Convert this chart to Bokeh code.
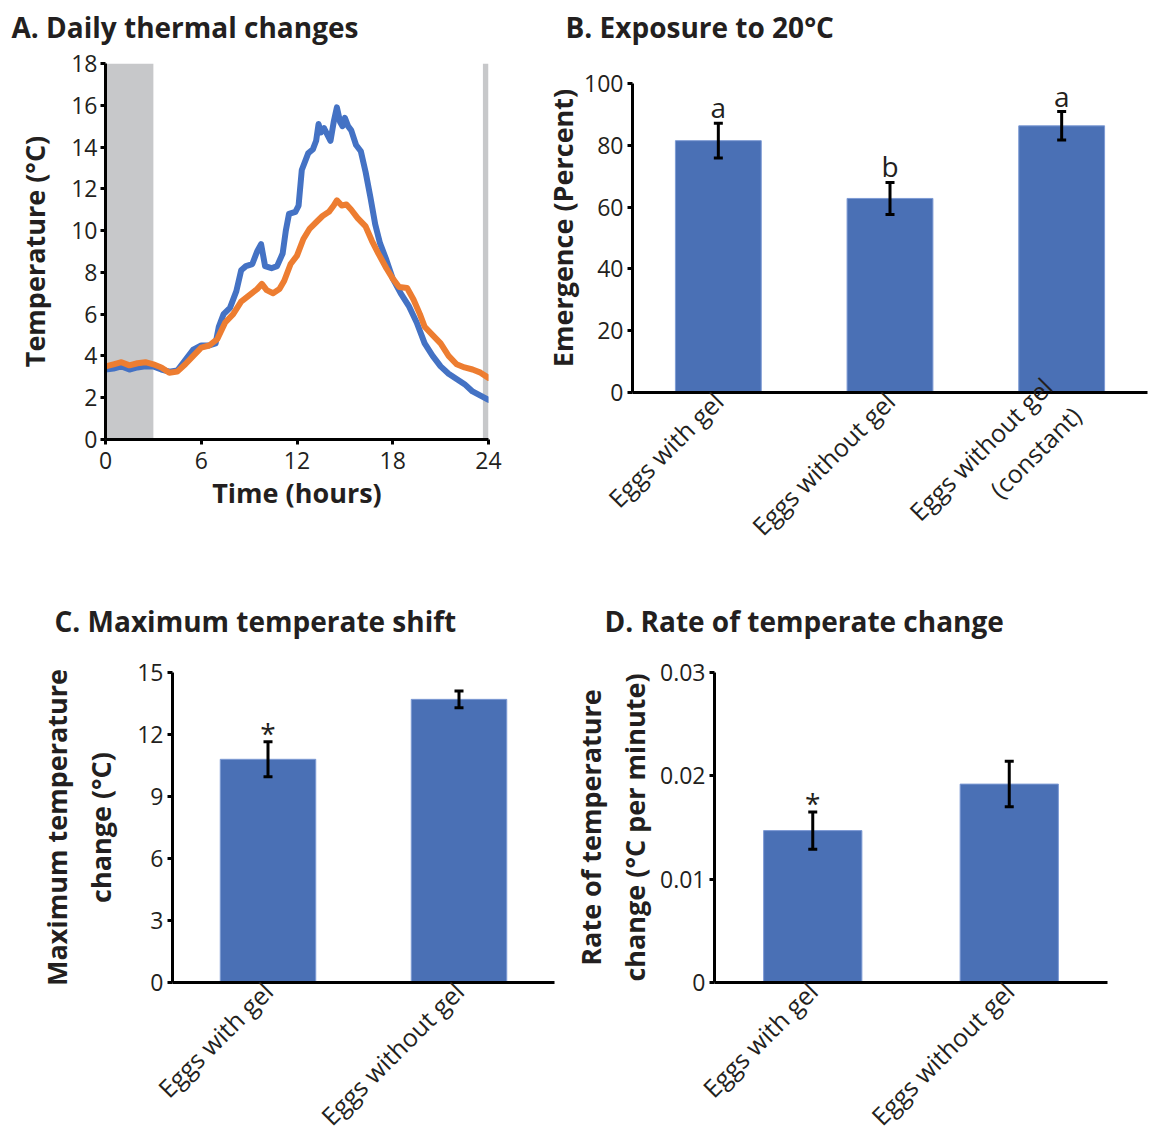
import math
from bokeh.plotting import figure
from bokeh.models import (Range1d, FactorRange, FixedTicker, Whisker, TeeHead, ColumnDataSource,
                          BoxAnnotation, Title, LinearAxis, CategoricalAxis)
from bokeh.layouts import column, row
from bokeh.embed import file_html
from bokeh.resources import INLINE
from bokeh.core.properties import value

# ---------------- data ----------------
# Panel A: daily thermal changes (hours, °C)
blue_hours = [0, 0.5, 1, 1.5, 2, 2.5, 3, 3.5, 4, 4.5, 5, 5.5, 6, 6.5, 6.9, 7.1, 7.4, 7.8, 8.2, 8.5,
              8.8, 9.2, 9.5, 9.75, 10.0, 10.4, 10.75, 11.1, 11.3, 11.5, 11.9, 12.1, 12.3, 12.7, 13.0,
              13.2, 13.35, 13.5, 13.7, 13.9, 14.1, 14.3, 14.5, 14.7, 14.85, 15.0, 15.2, 15.4, 15.7,
              16.0, 16.3, 16.6, 16.9, 17.2, 17.6, 18.0, 18.5, 19.0, 19.5, 20.0, 20.5, 21.0, 21.5,
              22.0, 22.5, 23.0, 23.5, 24.0]
blue_temp = [3.35, 3.4, 3.5, 3.35, 3.45, 3.5, 3.5, 3.35, 3.25, 3.3, 3.8, 4.3, 4.5, 4.5, 4.6, 5.4, 6.0,
             6.3, 7.1, 8.1, 8.3, 8.4, 9.0, 9.35, 8.3, 8.2, 8.3, 8.9, 10.0, 10.8, 10.9, 11.2, 12.9,
             13.7, 13.9, 14.3, 15.1, 14.7, 14.9, 14.6, 14.3, 15.2, 15.9, 15.2, 15.0, 15.4, 15.0,
             14.8, 14.1, 13.8, 12.8, 11.6, 10.3, 9.4, 8.6, 7.7, 7.0, 6.4, 5.6, 4.6, 4.0, 3.5, 3.15,
             2.9, 2.65, 2.3, 2.1, 1.9]
orange_hours = [0, 0.5, 1, 1.5, 2, 2.5, 3, 3.5, 4, 4.5, 5, 5.5, 6, 6.5, 7, 7.5, 8, 8.5, 9, 9.5, 9.8,
                10.1, 10.5, 10.9, 11.2, 11.6, 12.0, 12.4, 12.8, 13.2, 13.6, 14.0, 14.3, 14.5, 14.8,
                15.1, 15.4, 15.8, 16.3, 16.7, 17.1, 17.6, 18.0, 18.4, 18.9, 19.3, 19.7, 20.0, 20.5,
                21.0, 21.5, 22.0, 22.5, 23.0, 23.5, 24.0]
orange_temp = [3.5, 3.6, 3.7, 3.55, 3.65, 3.7, 3.6, 3.45, 3.2, 3.25, 3.6, 4.0, 4.4, 4.5, 4.8, 5.6,
               6.0, 6.6, 6.9, 7.2, 7.45, 7.15, 7.0, 7.2, 7.6, 8.4, 8.8, 9.6, 10.1, 10.4, 10.7, 10.9,
               11.2, 11.45, 11.2, 11.25, 11.0, 10.6, 10.2, 9.5, 8.9, 8.2, 7.7, 7.3, 7.25, 6.7, 6.0,
               5.4, 5.0, 4.6, 4.0, 3.6, 3.45, 3.35, 3.2, 2.95]
night_start = [0, 23.65]
night_end = [3.0, 24.0]
a_xticks = [0, 6, 12, 18, 24]
a_yticks = [0, 2, 4, 6, 8, 10, 12, 14, 16, 18]

# Panel B: emergence after exposure to 20°C
b_categories = ["Eggs with gel", "Eggs without gel", "Eggs without gel\n(constant)"]
b_values = [81.5, 62.8, 86.3]
b_errors = [5.6, 5.2, 4.6]
b_letters = ["a", "b", "a"]
b_yticks = [0, 20, 40, 60, 80, 100]

# Panel C: maximum temperature change
c_categories = ["Eggs with gel", "Eggs without gel"]
c_values = [10.8, 13.7]
c_errors = [0.85, 0.4]
c_marks = ["*", ""]
c_yticks = [0, 3, 6, 9, 12, 15]

# Panel D: rate of temperature change
d_categories = ["Eggs with gel", "Eggs without gel"]
d_values = [0.0147, 0.0192]
d_errors = [0.0018, 0.0022]
d_marks = ["*", ""]
d_yticks = [0, 0.01, 0.02, 0.03]

# ---------------- style ----------------
FONT = "Open Sans"
TXT = "#231f20"
BLUE = "#4472c4"
ORANGE = "#ed7d31"
BAR = "#4a70b5"
GRAY = "#c7c8ca"
TICK_FS = "23px"
CAT_FS = "25px"
LABEL_FS = "27px"
TITLE_FS = "28px"


def base_style(p):
    p.toolbar_location = None
    p.outline_line_color = None
    p.xgrid.visible = False
    p.ygrid.visible = False
    p.background_fill_color = "white"
    p.border_fill_color = "white"
    for ax in p.axis:
        ax.axis_line_width = 3
        ax.axis_line_color = "black"
        ax.major_tick_line_width = 3
        ax.major_tick_line_color = "black"
        ax.major_tick_in = 0
        ax.major_tick_out = 5
        ax.minor_tick_line_color = None
        ax.major_label_text_font = FONT
        ax.major_label_text_font_size = TICK_FS
        ax.major_label_text_color = TXT
        ax.major_label_standoff = 3
        ax.axis_label_text_font = FONT
        ax.axis_label_text_font_size = LABEL_FS
        ax.axis_label_text_font_style = "bold"
        ax.axis_label_text_color = TXT


def add_title(p, text, offset, gap, cats=None):
    # invisible spacer axis (hidden ticks of length `gap`) between the frame and the title
    common = dict(major_tick_out=gap, major_tick_in=0, major_tick_line_color=None,
                  minor_tick_out=0, minor_tick_line_color=None, axis_line_color=None,
                  major_label_standoff=0, major_label_text_font_size="1px",
                  major_label_text_alpha=0.0, major_label_text_color=None)
    if cats is None:
        spacer = LinearAxis(ticker=FixedTicker(ticks=[12]), major_label_overrides={12: " "}, **common)
    else:
        spacer = CategoricalAxis(major_label_overrides={c: " " for c in cats}, **common)
    p.add_layout(spacer, "above")
    p.add_layout(Title(text=text, text_font=FONT, text_font_size=TITLE_FS, text_font_style="bold",
                       text_color=TXT, align="left", offset=offset, standoff=0), "above")


# ---------------- Panel A ----------------
pA = figure(frame_width=383, frame_height=376,
            min_border_left=105, min_border_right=42, min_border_top=63, min_border_bottom=141,
            x_range=Range1d(0, 24), y_range=Range1d(0, 18),
            output_backend="svg", toolbar_location=None)
base_style(pA)
for s, e in zip(night_start, night_end):
    pA.add_layout(BoxAnnotation(left=s, right=e, fill_color=GRAY, fill_alpha=1.0,
                                line_color=None, level="underlay"))
pA.line(blue_hours, blue_temp, line_color=BLUE, line_width=6, line_join="round", line_cap="round")
pA.line(orange_hours, orange_temp, line_color=ORANGE, line_width=6, line_join="round", line_cap="round")
pA.xaxis.ticker = FixedTicker(ticks=a_xticks)
pA.yaxis.ticker = FixedTicker(ticks=a_yticks)
pA.xaxis.axis_label = "Time (hours)"
pA.yaxis.axis_label = "Temperature (°C)"
pA.xaxis.major_label_standoff = 7
pA.xaxis.axis_label_standoff = 2
pA.yaxis.axis_label_standoff = 15
add_title(pA, "A. Daily thermal changes", -94, 18)


def bar_panel(cats, vals, errs, marks, yticks, ymax, yshown, geom, ylabel, mark_offset, mark_fs):
    fw, fh, bl, br, bt, bb = geom
    p = figure(frame_width=fw, frame_height=fh,
               min_border_left=bl, min_border_right=br, min_border_top=bt, min_border_bottom=bb,
               x_range=FactorRange(factors=cats, range_padding=0), y_range=Range1d(0, ymax),
               output_backend="svg", toolbar_location=None)
    base_style(p)
    src = ColumnDataSource(dict(cat=cats, val=vals,
                                lo=[v - e for v, e in zip(vals, errs)],
                                hi=[v + e for v, e in zip(vals, errs)],
                                mark=marks))
    p.vbar(x="cat", top="val", width=0.5, bottom=0, source=src,
           fill_color=BAR, line_color="#7d9ad4", line_width=1)
    p.add_layout(Whisker(base="cat", upper="hi", lower="lo", source=src, level="overlay",
                         line_color="black", line_width=3,
                         upper_head=TeeHead(size=9, line_width=3, line_color="black"),
                         lower_head=TeeHead(size=9, line_width=3, line_color="black")))
    p.text(x="cat", y="hi", text="mark", source=src, text_align="center",
           text_baseline="bottom", y_offset=mark_offset,
           text_font=value(FONT), text_font_size=mark_fs, text_color=TXT)
    p.yaxis.ticker = FixedTicker(ticks=yticks)
    p.yaxis.bounds = (0, yshown)
    p.yaxis.axis_label = ylabel
    p.yaxis.major_label_standoff = 4
    p.xaxis.major_tick_out = 0
    p.xaxis.major_label_orientation = math.pi / 4
    p.xaxis.major_label_text_font_size = CAT_FS
    p.xaxis.major_label_standoff = 4
    return p


# B: frame top aligned with A (row alignment); axis only drawn up to 100
pB = bar_panel(b_categories, b_values, b_errors, b_letters, b_yticks, 100 * 329 / 309, 100,
               (515, 329, 102, 4, 63, 188), "Emergence (Percent)", 3, "28px")
pB.yaxis.axis_label_standoff = 0
add_title(pB, "B. Exposure to 20°C", -67, 18, b_categories)

pC = bar_panel(c_categories, c_values, c_errors, c_marks, c_yticks, 15, 15,
               (382, 310, 172, 14, 86, 150), "Maximum temperature\nchange (°C)", 10, "28px")
pC.yaxis.axis_label_standoff = 15
add_title(pC, "C. Maximum temperate shift", -118, 33, c_categories)

pD = bar_panel(d_categories, d_values, d_errors, d_marks, d_yticks, 0.03, 0.03,
               (393, 310, 145, 30, 86, 150), "Rate of temperature\nchange (°C per minute)", 10, "28px")
pD.yaxis.major_label_overrides = {0: "0"}
pD.yaxis.axis_label_standoff = 4
add_title(pD, "D. Rate of temperate change", -110, 33, d_categories)

layout = column(row(pA, pB), row(pC, pD))
html = file_html(layout, INLINE, title="Eggs thermal figure")
open("out.html", "w").write(html)
